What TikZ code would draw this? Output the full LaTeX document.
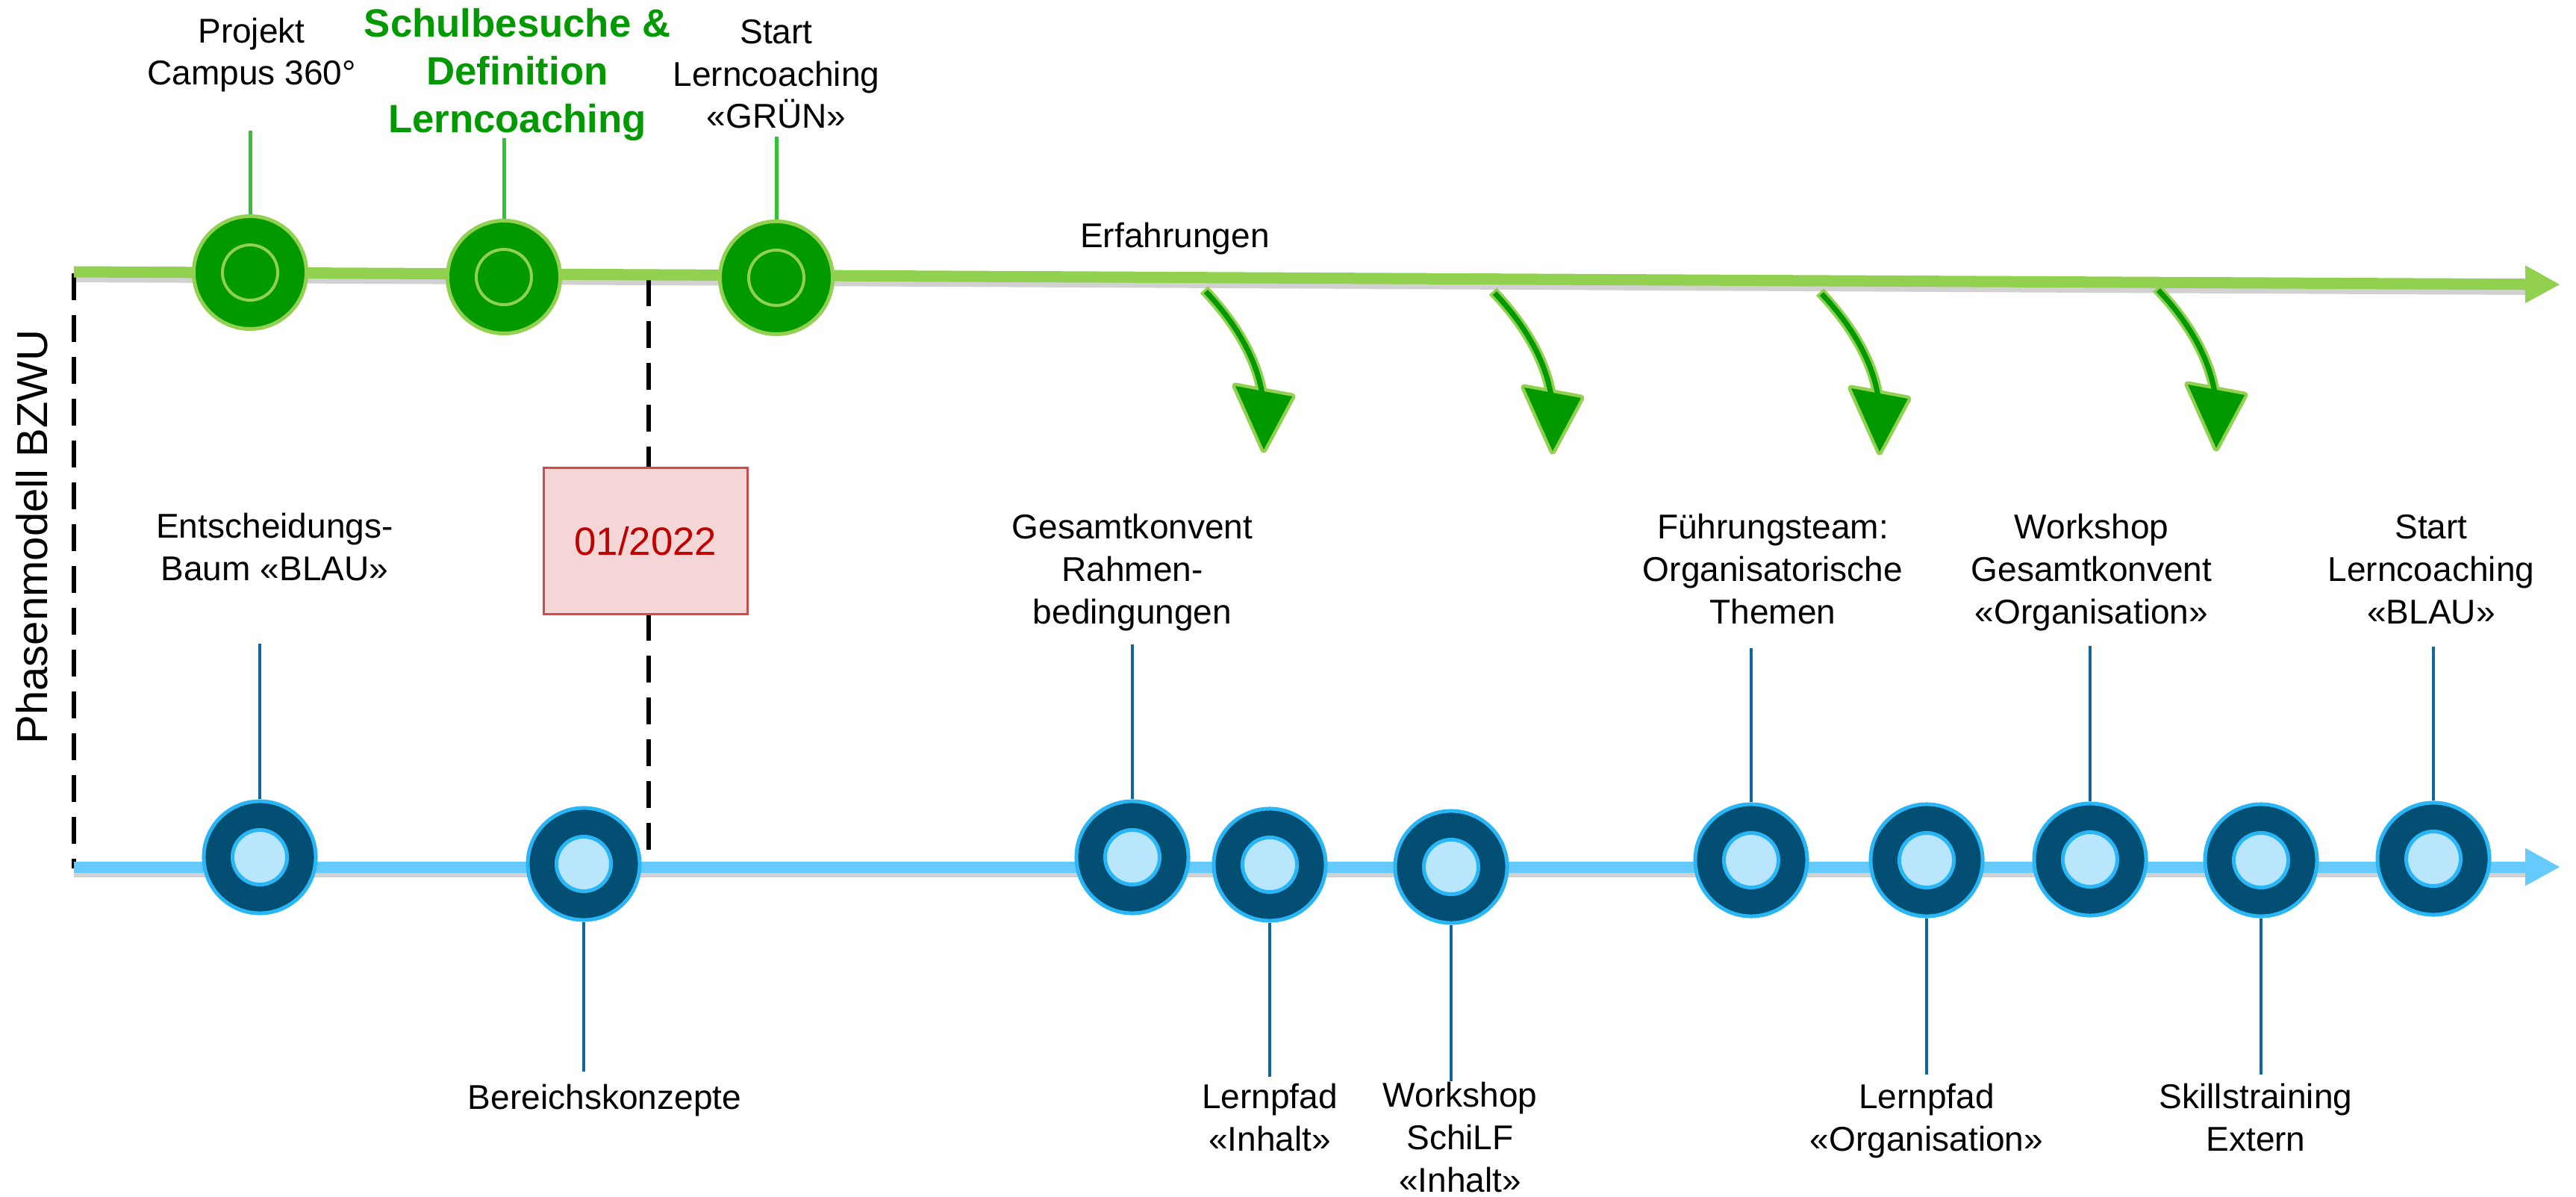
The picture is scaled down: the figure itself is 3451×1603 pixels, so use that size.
\documentclass[tikz,border=0pt]{standalone}
\usepackage{fontspec}
\setmainfont{Liberation Sans}
\usetikzlibrary{arrows.meta}
\definecolor{lgreen}{HTML}{92D050}
\definecolor{dgreen}{HTML}{009900}
\definecolor{gstem}{HTML}{33C233}
\definecolor{bline}{HTML}{66CAFC}
\definecolor{bdark}{HTML}{024F73}
\definecolor{bring}{HTML}{29B6F6}
\definecolor{binner}{HTML}{B9E6FD}
\definecolor{bstem}{HTML}{10669E}
\definecolor{datefill}{HTML}{F5D6D6}
\definecolor{dateline}{HTML}{D24B4B}
\definecolor{datetext}{HTML}{C00000}
\tikzset{
  lbl/.style={align=center, inner sep=0pt, anchor=base, font=\fontsize{13.1pt}{16.1pt}\selectfont},
  glbl/.style={align=center, inner sep=0pt, anchor=base, text=dgreen, font=\fontsize{15pt}{18.2pt}\selectfont\bfseries},
  gout/.style={circle, draw=lgreen, fill=dgreen, line width=0.05cm, minimum size=1.51cm, inner sep=0pt},
  gin/.style={circle, draw=lgreen, line width=0.04cm, minimum size=0.74cm, inner sep=0pt},
  bout/.style={circle, draw=bring, fill=bdark, line width=0.05cm, minimum size=1.50cm, inner sep=0pt},
  bin/.style={circle, draw=bring, fill=binner, line width=0.05cm, minimum size=0.73cm, inner sep=0pt},
  gstemline/.style={draw=gstem, line width=0.05cm},
  bstemline/.style={draw=bstem, line width=0.045cm},
  dashline/.style={draw=black, line width=0.06cm, dash pattern=on 0.36cm off 0.2cm},
  shadowline/.style={draw=black, opacity=0.18, line width=0.12cm},
  flowarrow/.pic={
    \draw[lgreen, line width=0.09cm, line join=round] (42,129) -- (80,214) -- (118,143) -- cycle;
    \draw[lgreen, line width=0.14cm] (0,0) .. controls (40,42) and (70,90) .. (78,140);
    \fill[dgreen] (42,129) -- (80,214) -- (118,143) -- cycle;
    \draw[dgreen, line width=0.07cm, shorten <=0.035cm] (0,0) .. controls (40,42) and (70,90) .. (78,140);
  }
}
\begin{document}
\begin{tikzpicture}[x=0.01cm, y=-0.01cm]
\useasboundingbox[fill=white] (0,0) rectangle (3451,1603);

% main line coordinates
\coordinate (gs) at (99,364);
\coordinate (ge) at (3430,381);
\coordinate (bs) at (99,1161);
\coordinate (be) at (3430,1161);

% dashed phase borders
\coordinate (d1t) at (99,366);
\coordinate (d1b) at (99,1163);
\coordinate (d2t) at (869,374);
\coordinate (d2b) at (869,1163);
\draw[dashline] (d1t) -- (d1b);
\draw[dashline] (d2t) -- (d2b);

% shadows
\draw[shadowline] ([yshift=-0.08cm]gs) -- ([yshift=-0.08cm,xshift=-0.45cm]ge);
\draw[shadowline] ([yshift=-0.08cm]bs) -- ([yshift=-0.08cm,xshift=-0.45cm]be);

% main lines
\draw[lgreen, line width=0.15cm, -{Triangle[length=0.47cm, width=0.47cm]}] (gs) -- (ge);
\draw[bline, line width=0.15cm, -{Triangle[length=0.47cm, width=0.47cm]}] (bs) -- (be);

% date box
\node[draw=dateline, fill=datefill, line width=0.03cm, minimum width=2.72cm, minimum height=1.95cm,
      text=datetext, font=\fontsize{15pt}{18pt}\selectfont] (date) at (865,724.5) {01/2022};

% side title
\node[rotate=90, anchor=base west, inner sep=0pt, font=\fontsize{16.5pt}{20pt}\selectfont] (title) at (64,997) {Phasenmodell BZWU};

% experience arrows
\node[lbl] (erf) at (1574,331) {Erfahrungen};
\coordinate (a1) at (1613,388);
\coordinate (a2) at (2000,390);
\coordinate (a3) at (2438,391);
\coordinate (a4) at (2889,386);
\pic at (a1) {flowarrow};
\pic at (a2) {flowarrow};
\pic at (a3) {flowarrow};
\pic at (a4) {flowarrow};

% green milestones
\node[gout] (g1) at (335,365) {};
\node[gout] (g2) at (675,371) {};
\node[gout] (g3) at (1040,372) {};
\node[gin] (g1i) at (g1) {};
\node[gin] (g2i) at (g2) {};
\node[gin] (g3i) at (g3) {};
\coordinate (g1t) at (335,175);
\coordinate (g2t) at (675,185);
\coordinate (g3t) at (1040,183);
\draw[gstemline] (g1t) -- (g1.north);
\draw[gstemline] (g2t) -- (g2.north);
\draw[gstemline] (g3t) -- (g3.north);
\node[lbl] (lg1) at (337,114) {Projekt\\Campus 360°};
\node[glbl] (lg2) at (693,178) {Schulbesuche \&\\Definition\\Lerncoaching};
\node[lbl] (lg3) at (1040,172) {Start\\Lerncoaching\\«GRÜN»};

% blue milestones
\node[bout] (b1) at (348,1148) {};
\node[bout] (b2) at (782,1157) {};
\node[bout] (b3) at (1517,1148) {};
\node[bout] (b4) at (1701,1158) {};
\node[bout] (b5) at (1944,1161) {};
\node[bout] (b6) at (2346,1152) {};
\node[bout] (b7) at (2581,1152) {};
\node[bout] (b8) at (2800,1151) {};
\node[bout] (b9) at (3029,1152) {};
\node[bout] (b10) at (3260,1150) {};
\foreach \n in {1,...,10} { \node[bin] (b\n i) at (b\n) {}; }

\coordinate (b1t) at (348,862);
\coordinate (b3t) at (1517,863);
\coordinate (b6t) at (2346,868);
\coordinate (b8t) at (2800,865);
\coordinate (b10t) at (3260,866);
\coordinate (b2t) at (782,1435);
\coordinate (b4t) at (1701,1442);
\coordinate (b5t) at (1944,1448);
\coordinate (b7t) at (2581,1439);
\coordinate (b9t) at (3029,1439);
\draw[bstemline] (b1t) -- (b1.north);
\draw[bstemline] (b3t) -- (b3.north);
\draw[bstemline] (b6t) -- (b6.north);
\draw[bstemline] (b8t) -- (b8.north);
\draw[bstemline] (b10t) -- (b10.north);
\draw[bstemline] (b2t) -- (b2.south);
\draw[bstemline] (b4t) -- (b4.south);
\draw[bstemline] (b5t) -- (b5.south);
\draw[bstemline] (b7t) -- (b7.south);
\draw[bstemline] (b9t) -- (b9.south);

\node[lbl] (lb1) at (368,777) {Entscheidungs-\\Baum «BLAU»};
\node[lbl] (lb3) at (1517,835) {Gesamtkonvent\\Rahmen-\\bedingungen};
\node[lbl] (lb6) at (2375,835) {Führungsteam:\\Organisatorische\\Themen};
\node[lbl] (lb8) at (2802,835) {Workshop\\Gesamtkonvent\\«Organisation»};
\node[lbl] (lb10) at (3257,835) {Start\\Lerncoaching\\«BLAU»};
\node[lbl] (lb2) at (810,1485) {Bereichskonzepte};
\node[lbl] (lb4) at (1701,1541) {Lernpfad\\«Inhalt»};
\node[lbl] (lb5) at (1956,1596) {Workshop\\SchiLF\\«Inhalt»};
\node[lbl] (lb7) at (2581,1541) {Lernpfad\\«Organisation»};
\node[lbl] (lb9) at (3022,1541) {Skillstraining\\Extern};
\end{tikzpicture}
\end{document}
